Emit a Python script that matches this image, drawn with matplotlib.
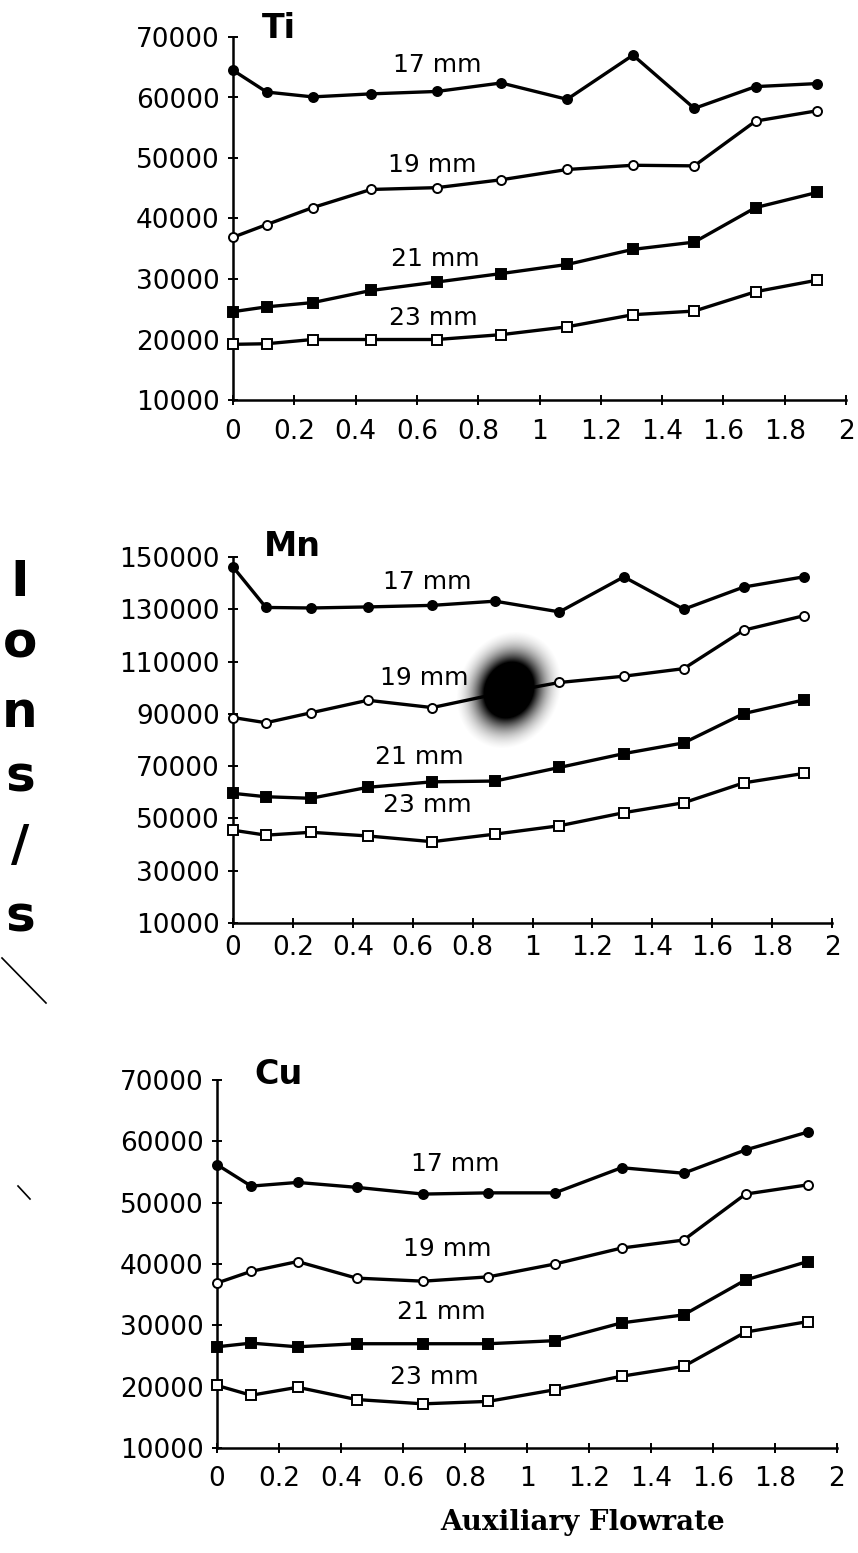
import numpy as np
import matplotlib
matplotlib.use("Agg")
import matplotlib.pyplot as plt
from matplotlib.lines import Line2D
from matplotlib.ticker import FuncFormatter

# auxiliary flowrate (x) shared by all three elements
flow = [0, 0.11, 0.26, 0.45, 0.665, 0.875, 1.09, 1.305, 1.505, 1.705, 1.905]
dists = ["17 mm", "19 mm", "21 mm", "23 mm"]

ti_17 = [64500, 60900, 60100, 60600, 61000, 62400, 59700, 67000, 58200, 61800, 62300]
ti_19 = [36900, 39000, 41800, 44800, 45100, 46400, 48100, 48800, 48700, 56100, 57800]
ti_21 = [24600, 25400, 26100, 28100, 29500, 30900, 32400, 34900, 36100, 41800, 44300]
ti_23 = [19200, 19300, 20000, 20000, 20000, 20800, 22100, 24100, 24700, 27900, 29800]

mn_17 = [146200, 130700, 130500, 130900, 131500, 133100, 129000, 142400, 130000, 138500, 142400]
mn_19 = [88600, 86600, 90400, 95200, 92400, 97500, 102000, 104400, 107300, 122000, 127500]
mn_21 = [59600, 58300, 57700, 61900, 64000, 64300, 69500, 74800, 78900, 90100, 95300]
mn_23 = [45500, 43600, 44700, 43300, 41100, 44000, 47200, 52200, 56000, 63600, 67200]

cu_17 = [56200, 52700, 53300, 52500, 51400, 51600, 51600, 55700, 54800, 58600, 61500]
cu_19 = [36900, 38800, 40400, 37700, 37200, 37900, 40000, 42600, 43900, 51400, 52900]
cu_21 = [26500, 27100, 26500, 27000, 27000, 27000, 27500, 30400, 31700, 37400, 40400]
cu_23 = [20200, 18600, 19900, 17900, 17200, 17600, 19500, 21700, 23300, 28900, 30600]

# where each distance label sits, in data coords
ti_lab = [(0.666, 65400), (0.65, 48800), (0.66, 33300), (0.653, 23500)]
mn_lab = [(0.65, 140400), (0.64, 103700), (0.623, 73500), (0.65, 55200)]
cu_lab = [(0.768, 56300), (0.742, 42400), (0.723, 32200), (0.70, 21600)]

W, H = 858, 1553
fig = plt.figure(figsize=(W / 100, H / 100), dpi=100)
plt.rcParams["font.family"] = ["DejaVu Sans"]


def box(l, r, t, b):
    return [l / W, 1 - b / H, (r - l) / W, (b - t) / H]


styles = [
    dict(marker="o", mfc="black"),
    dict(marker="o", mfc="white"),
    dict(marker="s", mfc="black"),
    dict(marker="s", mfc="white"),
]


def panel(rect, series, labels, ylim, ystep, name, name_xy, xpad):
    ax = fig.add_axes(rect)
    for ys, st in zip(series, styles):
        ax.plot(flow, ys, color="black", lw=2.4, ms=6.5, mec="black", mew=1.4,
                clip_on=False, zorder=3, **st)
    for txt, (x, y) in zip(dists, labels):
        ax.text(x, y, txt, fontsize=18, ha="center", va="center")
    ax.set_xlim(0, 2)
    ax.set_ylim(*ylim)
    ax.set_xticks(np.arange(0, 2.01, 0.2))
    ax.set_yticks(np.arange(ylim[0], ylim[1] + 1, ystep))
    ax.xaxis.set_major_formatter(FuncFormatter(lambda v, p: f"{v:g}"))
    ax.yaxis.set_major_formatter(FuncFormatter(lambda v, p: f"{int(v)}"))
    for s in ("top", "right"):
        ax.spines[s].set_visible(False)
    for s in ("left", "bottom"):
        ax.spines[s].set_linewidth(1.8)
    ax.tick_params(direction="inout", length=7, width=1.4, labelsize=19)
    ax.tick_params(axis="y", pad=6)
    ax.tick_params(axis="x", pad=xpad)
    fig.text(name_xy[0] / W, 1 - name_xy[1] / H, name, fontsize=24,
             fontweight="bold", ha="center", va="center")
    return ax


panel(box(233, 846, 37, 400), [ti_17, ti_19, ti_21, ti_23], ti_lab,
      (10000, 70000), 10000, "Ti", (279, 29), 10)
panel(box(233, 832, 557, 923), [mn_17, mn_19, mn_21, mn_23], mn_lab,
      (10000, 150000), 20000, "Mn", (292, 547), 5)
panel(box(217, 837, 1080, 1448), [cu_17, cu_19, cu_21, cu_23], cu_lab,
      (10000, 70000), 10000, "Cu", (279, 1075), 9.5)

# stacked y label down the left margin
for ch, yc in zip("Ions/s", [582, 643, 713, 778, 846, 918]):
    fig.text(20 / W, 1 - yc / H, ch, fontsize=36, fontweight="bold",
             ha="center", va="center")

fig.text(583 / W, 1 - 1523 / H, "Auxiliary Flowrate", family="DejaVu Serif",
         fontsize=20, fontweight="bold", ha="center", va="center")

# ink smudge over the Mn 19 mm trace
n = 120
u, v = np.meshgrid(np.linspace(-1, 1, n), np.linspace(-1, 1, n))
a = np.deg2rad(25)
ur = u * np.cos(a) + v * np.sin(a)
vr = -u * np.sin(a) + v * np.cos(a)
d2 = (ur / 0.8) ** 2 + (vr / 0.95) ** 2
smudge = np.zeros((n, n, 4))
smudge[..., 3] = np.clip(2.3 * np.exp(-d2 / 0.34) - 0.08, 0, 1)
fig.figimage(smudge, xo=509 - n // 2, yo=H - 690 - n // 2, zorder=5)

# stray pen strokes in the margin
for (x0, y0), (x1, y1) in [((2, 958), (46, 1003)), ((18, 1186), (30, 1199))]:
    fig.lines.append(Line2D([x0 / W, x1 / W], [1 - y0 / H, 1 - y1 / H],
                            color="black", lw=1.2, transform=fig.transFigure))

fig.savefig("out.png", dpi=100, facecolor="white")
